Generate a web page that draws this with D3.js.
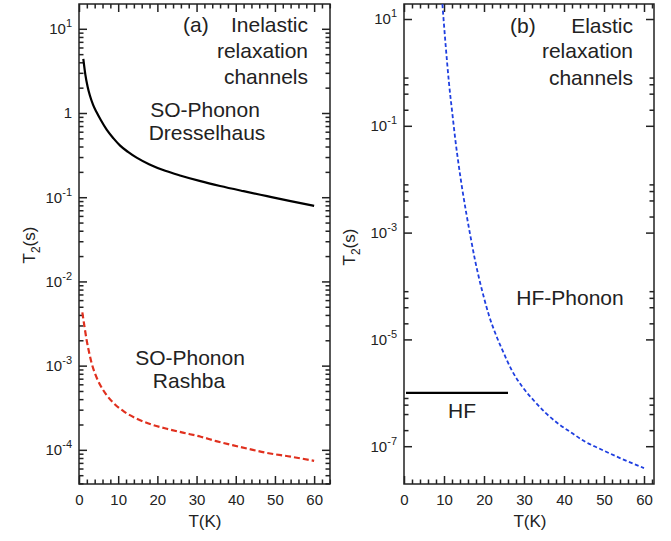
<!DOCTYPE html>
<html lang="en">
<head>
<meta charset="UTF-8">
<title>T2 relaxation channels</title>
<script src="https://cdn.jsdelivr.net/npm/d3@7"></script>
<style>
  body{margin:0;background:#fff;}
  svg{font-family:"Liberation Sans",Arial,Helvetica,sans-serif;}
</style>
</head>
<body>
<script>
// (a) inelastic channels
var tempDressel = [1.1,1.6,2.2,2.8,3.6,4.5,5.6,7.1,8.8,10.5,12.5,14.7,18,22,26,31,36,42,48,54,60];
var dresselhaus = [4.4,2.9,2.05,1.6,1.25,1.02,0.82,0.63,0.5,0.41,0.345,0.295,0.245,0.206,0.18,0.155,0.136,0.118,0.103,0.09,0.079];
var tempRashba = [0.85,1.4,2.0,2.6,3.2,4.2,5.4,7,8.8,11.5,14.7,18.5,22.4,26.5,30.9,35,39.4,43.5,47.9,54,60];
var rashba = [4.3e-3,2.9e-3,1.95e-3,1.42e-3,1.08e-3,7.8e-4,5.9e-4,4.5e-4,3.6e-4,2.85e-4,2.35e-4,2.0e-4,1.78e-4,1.6e-4,1.44e-4,1.27e-4,1.13e-4,1.02e-4,9.2e-5,8.3e-5,7.4e-5];
// (b) elastic channels
var tempHFPhonon = [9.6,10.4,11.25,12.1,12.9,13.7,14.6,15.6,16.7,17.7,18.75,20,21.25,22.9,24.6,27,29.6,32.5,35.4,38.7,42.1,45.4,48.75,54,60];
var hfPhonon = [19,3.3,0.63,0.166,0.05,0.0178,6.3e-3,2.24e-3,7.9e-4,3.2e-4,1.41e-4,6.0e-5,2.8e-5,1.26e-5,6.3e-6,2.6e-6,1.29e-6,7.1e-7,4.2e-7,2.6e-7,1.74e-7,1.2e-7,9.1e-8,6.0e-8,3.9e-8];
var tempHF = [0.5,26];
var hf = [1e-6,1e-6];

var xTicks = [0,10,20,30,40,50,60];
var yTicksA = [1e1,1,1e-1,1e-2,1e-3,1e-4];
var yTicksB = [1e1,1e-1,1e-3,1e-5,1e-7];

var width=671,height=541;
var svg=d3.select("body").append("svg")
    .attr("width",width)
    .attr("height",height);

var ink="#222";

// superscript labels like 10^-3
function powLabel(sel){
    sel.each(function(d){
        var t=d3.select(this);
        var e=Math.round(Math.log10(d));
        t.text(null);
        if(e===0){ t.text("1"); return; }
        t.append("tspan").text("10");
        t.append("tspan").attr("dy",-7).attr("font-size",11).text(e);
    });
}

function panel(p){
    var x=d3.scaleLinear().domain([0,p.xMax]).range([p.left,p.right]);
    var y=d3.scaleLog().domain([p.yTop,p.yBottom]).range([p.top,p.bottom]);
    var g=svg.append("g");

    // minor x ticks every 2
    var xMinor=d3.range(0,p.xMax,2).filter(function(v){return v%10!==0;});

    g.append("g").attr("transform","translate(0,"+p.bottom+")")
        .call(d3.axisBottom(x).tickValues(xTicks).tickSizeInner(-8).tickSizeOuter(0).tickPadding(10))
        .call(function(a){a.select(".domain").remove();});
    g.append("g").attr("transform","translate(0,"+p.bottom+")")
        .call(d3.axisBottom(x).tickValues(xMinor).tickSize(-4.5).tickFormat(""))
        .call(function(a){a.select(".domain").remove();});
    g.append("g").attr("transform","translate(0,"+p.top+")")
        .call(d3.axisTop(x).tickValues(xTicks).tickSize(-8).tickFormat(""))
        .call(function(a){a.select(".domain").remove();});
    g.append("g").attr("transform","translate(0,"+p.top+")")
        .call(d3.axisTop(x).tickValues(xMinor).tickSize(-4.5).tickFormat(""))
        .call(function(a){a.select(".domain").remove();});

    var yl=g.append("g").attr("transform","translate("+p.left+",0)")
        .call(d3.axisLeft(y).tickValues(p.yTicks).tickSizeInner(-8).tickSizeOuter(0).tickPadding(7))
        .call(function(a){a.select(".domain").remove();});
    yl.selectAll(".tick text").call(powLabel);
    g.append("g").attr("transform","translate("+p.left+",0)")
        .call(d3.axisLeft(y).tickValues(p.yMinor).tickSize(-4.5).tickFormat(""))
        .call(function(a){a.select(".domain").remove();});
    g.append("g").attr("transform","translate("+p.right+",0)")
        .call(d3.axisRight(y).tickValues(p.yTicks).tickSize(-8).tickFormat(""))
        .call(function(a){a.select(".domain").remove();});
    g.append("g").attr("transform","translate("+p.right+",0)")
        .call(d3.axisRight(y).tickValues(p.yMinor).tickSize(-4.5).tickFormat(""))
        .call(function(a){a.select(".domain").remove();});

    g.selectAll(".tick line").attr("stroke",ink).attr("stroke-width",1.5);
    g.selectAll(".tick text").attr("fill",ink).attr("font-size",15)
        .attr("font-family","Liberation Sans, Arial, sans-serif");

    // frame
    g.append("rect")
        .attr("x",p.left).attr("y",p.top)
        .attr("width",p.right-p.left).attr("height",p.bottom-p.top)
        .attr("fill","none").attr("stroke",ink).attr("stroke-width",1.5);

    var clipId="clip"+p.name;
    svg.append("clipPath").attr("id",clipId).append("rect")
        .attr("x",p.left).attr("y",p.top)
        .attr("width",p.right-p.left).attr("height",p.bottom-p.top);

    var line=d3.line()
        .x(function(d){return x(d[0]);})
        .y(function(d){return y(d[1]);})
        .curve(d3.curveMonotoneX);

    p.series.forEach(function(s){
        g.append("path")
            .datum(d3.zip(s.t,s.v))
            .attr("clip-path","url(#"+clipId+")")
            .attr("d",line)
            .attr("fill","none")
            .attr("stroke",s.color)
            .attr("stroke-width",s.width)
            .attr("stroke-dasharray",s.dash||null);
    });

    // axis titles
    g.append("text")
        .attr("x",p.xTitle).attr("y",527)
        .attr("text-anchor","middle").attr("font-size",17).attr("fill",ink)
        .text("T(K)");
    var yt=g.append("text")
        .attr("transform","translate("+p.yTitleX+","+p.yTitleY+") rotate(-90)")
        .attr("text-anchor","middle").attr("font-size",17).attr("fill",ink);
    yt.append("tspan").text("T");
    yt.append("tspan").attr("dy",5).attr("font-size",12).text("2");
    yt.append("tspan").attr("dy",-5).text("(s)");

    // annotations
    p.notes.forEach(function(n){
        g.append("text")
            .attr("x",n.x).attr("y",n.y)
            .attr("text-anchor",n.anchor)
            .attr("font-size",21)
            .attr("fill",ink)
            .text(n.text);
    });
}

function minorDecades(lo,hi){
    var out=[];
    for(var e=lo;e<=hi;e++){
        for(var m=2;m<=9;m++) out.push(m*Math.pow(10,e));
    }
    return out;
}

function minorB(){
    var out=[];
    yTicksB.forEach(function(v){
        [0.8,0.6,0.4,0.2].forEach(function(m){ out.push(v*0.1*m); });
    });
    return out.filter(function(v){return v>2e-8;});
}

panel({
    name:"a",
    left:79,right:330,top:4,bottom:484,
    xMax:64.05,yTop:19.7,yBottom:3.93e-5,
    yTicks:yTicksA,
    yMinor:minorDecades(-5,1).filter(function(v){return v<19.7&&v>3.93e-5;}),
    xTitle:205,yTitleX:35,yTitleY:245,
    series:[
        {t:tempDressel,v:dresselhaus,color:"#000",width:2.2},
        {t:tempRashba,v:rashba,color:"#e0301e",width:2.2,dash:"6,3"}
    ],
    notes:[
        {x:183,y:32,anchor:"start",text:"(a)"},
        {x:308,y:32,anchor:"end",text:"Inelastic"},
        {x:308,y:58,anchor:"end",text:"relaxation"},
        {x:308,y:84,anchor:"end",text:"channels"},
        {x:205,y:117,anchor:"middle",text:"SO-Phonon"},
        {x:207,y:140,anchor:"middle",text:"Dresselhaus"},
        {x:190,y:365,anchor:"middle",text:"SO-Phonon"},
        {x:189,y:388,anchor:"middle",text:"Rashba"}
    ]
});

panel({
    name:"b",
    left:404,right:654,top:4,bottom:484,
    xMax:62.5,yTop:19.1,yBottom:1.96e-8,
    yTicks:yTicksB,
    yMinor:minorB(),
    xTitle:530,yTitleX:355,yTitleY:247,
    series:[
        {t:tempHF,v:hf,color:"#000",width:2.2},
        {t:tempHFPhonon,v:hfPhonon,color:"#1f3fe0",width:1.8,dash:"4,2.5"}
    ],
    notes:[
        {x:510,y:33,anchor:"start",text:"(b)"},
        {x:633,y:33,anchor:"end",text:"Elastic"},
        {x:633,y:58,anchor:"end",text:"relaxation"},
        {x:633,y:85,anchor:"end",text:"channels"},
        {x:570,y:305,anchor:"middle",text:"HF-Phonon"},
        {x:462,y:418,anchor:"middle",text:"HF"}
    ]
});
</script>
</body>
</html>
